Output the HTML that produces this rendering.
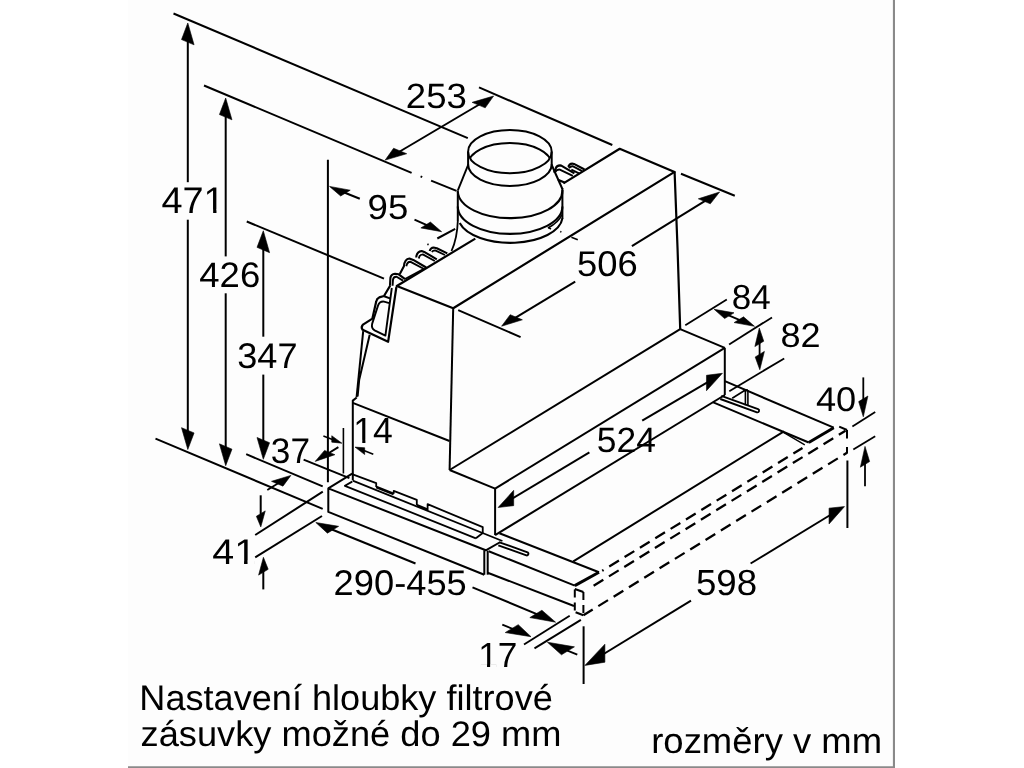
<!DOCTYPE html>
<html><head><meta charset="utf-8"><title>diagram</title>
<style>
html,body{margin:0;padding:0;background:#fff;}
body{width:1024px;height:768px;overflow:hidden;position:relative;}
svg{position:absolute;left:0;top:0;display:block;will-change:transform;}
svg text{font-family:"Liberation Sans",sans-serif;fill:#000;stroke:none;text-rendering:geometricPrecision;}
</style></head><body>
<svg width="1024" height="768" viewBox="0 0 1024 768" fill="none" stroke="#000" stroke-linecap="butt" stroke-linejoin="round">
<rect x="128" y="0" width="767" height="768" fill="#fdfdfd" stroke="none"/>
<line x1="893.95" y1="0" x2="893.95" y2="768" stroke="#8a8a8a" stroke-width="2.1"/>
<line x1="128" y1="767.15" x2="895" y2="767.15" stroke="#8a8a8a" stroke-width="1.7"/>
<line x1="173.50" y1="13.50" x2="467.80" y2="138.20" stroke-width="2.0" />
<line x1="204.00" y1="85.50" x2="411.60" y2="172.80" stroke-width="2.0" />
<line x1="420.60" y1="176.40" x2="422.20" y2="177.10" stroke-width="2.0" />
<line x1="431.10" y1="180.60" x2="456.50" y2="190.90" stroke-width="2.0" />
<line x1="246.75" y1="221.50" x2="384.00" y2="278.60" stroke-width="2.0" />
<line x1="479.00" y1="87.40" x2="612.30" y2="145.00" stroke-width="2.0" />
<line x1="681.00" y1="173.80" x2="734.80" y2="195.70" stroke-width="2.0" />
<line x1="458.20" y1="310.20" x2="520.60" y2="337.10" stroke-width="2.0" />
<line x1="187.80" y1="40.00" x2="187.80" y2="182.20" stroke-width="2.0" />
<line x1="187.80" y1="219.70" x2="187.80" y2="432.00" stroke-width="2.0" />
<polygon points="187.80,23.00 194.07,44.83 181.53,39.57" fill="#000" stroke="#000" stroke-width="0.6" stroke-linejoin="miter"/>
<polygon points="187.80,449.50 194.07,432.93 181.53,427.67" fill="#000" stroke="#000" stroke-width="0.6" stroke-linejoin="miter"/>
<line x1="225.70" y1="115.00" x2="225.70" y2="256.40" stroke-width="2.0" />
<line x1="225.70" y1="293.30" x2="225.70" y2="448.00" stroke-width="2.0" />
<polygon points="225.70,98.00 231.97,119.83 219.43,114.57" fill="#000" stroke="#000" stroke-width="0.6" stroke-linejoin="miter"/>
<polygon points="225.70,465.70 231.97,449.13 219.43,443.87" fill="#000" stroke="#000" stroke-width="0.6" stroke-linejoin="miter"/>
<line x1="263.30" y1="248.00" x2="263.30" y2="336.70" stroke-width="2.0" />
<line x1="263.30" y1="374.60" x2="263.30" y2="441.00" stroke-width="2.0" />
<polygon points="263.30,230.80 269.57,252.63 257.03,247.37" fill="#000" stroke="#000" stroke-width="0.6" stroke-linejoin="miter"/>
<polygon points="263.30,459.30 269.57,442.73 257.03,437.47" fill="#000" stroke="#000" stroke-width="0.6" stroke-linejoin="miter"/>
<line x1="327.90" y1="159.70" x2="327.90" y2="482.20" stroke-width="2.0" />
<line x1="343.40" y1="428.00" x2="343.40" y2="473.50" stroke-width="1.6" />
<line x1="155.50" y1="438.70" x2="322.70" y2="508.90" stroke-width="2.0" />
<line x1="246.20" y1="454.20" x2="322.70" y2="486.30" stroke-width="2.0" />
<line x1="303.60" y1="459.60" x2="349.40" y2="478.10" stroke-width="2.0" />
<line x1="255.20" y1="535.00" x2="322.80" y2="491.70" stroke-width="2.0" />
<line x1="255.20" y1="557.30" x2="322.00" y2="516.00" stroke-width="2.0" />
<line x1="260.70" y1="495.30" x2="260.70" y2="514.00" stroke-width="2.0" />
<polygon points="260.80,526.90 265.24,510.89 256.36,516.31" fill="#000" stroke="#000" stroke-width="0.6" stroke-linejoin="miter"/>
<line x1="263.30" y1="571.00" x2="263.30" y2="589.40" stroke-width="2.0" />
<polygon points="263.40,557.30 268.18,569.28 258.62,575.12" fill="#000" stroke="#000" stroke-width="0.6" stroke-linejoin="miter"/>
<line x1="323.40" y1="436.10" x2="335.00" y2="440.60" stroke-width="1.6" />
<polygon points="341.90,443.20 331.76,442.14 331.76,435.74" fill="#000" stroke="#000" stroke-width="0.6" stroke-linejoin="miter"/>
<line x1="338.40" y1="447.10" x2="326.00" y2="454.80" stroke-width="1.9" />
<polygon points="315.20,461.40 334.88,454.71 324.55,450.38" fill="#000" stroke="#000" stroke-width="0.6" stroke-linejoin="miter"/>
<line x1="267.30" y1="490.00" x2="279.00" y2="482.80" stroke-width="1.8" />
<polygon points="290.90,475.40 282.96,486.13 271.52,481.33" fill="#000" stroke="#000" stroke-width="0.6" stroke-linejoin="miter"/>
<line x1="373.30" y1="454.20" x2="362.00" y2="449.80" stroke-width="1.6" />
<polygon points="355.00,447.10 364.68,454.56 364.68,447.76" fill="#000" stroke="#000" stroke-width="0.6" stroke-linejoin="miter"/>
<line x1="393.00" y1="155.50" x2="486.00" y2="100.50" stroke-width="2.0" />
<polygon points="493.60,96.00 485.21,107.86 472.11,102.37" fill="#000" stroke="#000" stroke-width="0.6" stroke-linejoin="miter"/>
<polygon points="385.20,160.10 406.69,153.73 393.59,148.24" fill="#000" stroke="#000" stroke-width="0.6" stroke-linejoin="miter"/>
<line x1="343.00" y1="192.00" x2="359.80" y2="198.75" stroke-width="2.0" />
<polygon points="329.50,186.40 350.23,190.18 340.67,196.01" fill="#000" stroke="#000" stroke-width="0.6" stroke-linejoin="miter"/>
<line x1="414.50" y1="219.60" x2="428.00" y2="225.60" stroke-width="2.0" />
<polygon points="441.60,231.70 430.43,222.09 420.87,227.92" fill="#000" stroke="#000" stroke-width="0.6" stroke-linejoin="miter"/>
<line x1="437.30" y1="238.50" x2="455.20" y2="228.80" stroke-width="2.0" />
<line x1="509.00" y1="321.70" x2="575.20" y2="281.70" stroke-width="2.0" />
<line x1="631.90" y1="246.20" x2="712.00" y2="196.70" stroke-width="2.0" />
<polygon points="501.60,326.20 522.37,319.80 510.20,314.69" fill="#000" stroke="#000" stroke-width="0.6" stroke-linejoin="miter"/>
<polygon points="719.60,192.00 710.31,203.84 698.33,198.81" fill="#000" stroke="#000" stroke-width="0.6" stroke-linejoin="miter"/>
<line x1="571.40" y1="237.30" x2="577.80" y2="239.80" stroke-width="1.6" />
<line x1="560.20" y1="231.40" x2="561.40" y2="231.90" stroke-width="1.6" />
<line x1="548.00" y1="227.40" x2="551.00" y2="229.00" stroke-width="1.6" />
<line x1="685.30" y1="325.20" x2="726.80" y2="299.40" stroke-width="1.8" />
<line x1="729.10" y1="344.40" x2="772.00" y2="317.40" stroke-width="1.8" />
<line x1="727.00" y1="314.70" x2="741.00" y2="320.60" stroke-width="1.8" />
<polygon points="714.10,309.30 734.01,312.82 724.62,318.55" fill="#000" stroke="#000" stroke-width="0.6" stroke-linejoin="miter"/>
<polygon points="754.50,326.30 743.52,316.86 734.13,322.58" fill="#000" stroke="#000" stroke-width="0.6" stroke-linejoin="miter"/>
<line x1="759.60" y1="342.00" x2="759.60" y2="356.00" stroke-width="1.8" />
<polygon points="759.30,328.10 763.74,341.19 754.86,346.61" fill="#000" stroke="#000" stroke-width="0.6" stroke-linejoin="miter"/>
<polygon points="759.80,369.70 764.41,351.39 755.19,357.01" fill="#000" stroke="#000" stroke-width="0.6" stroke-linejoin="miter"/>
<line x1="729.30" y1="391.20" x2="784.20" y2="358.40" stroke-width="1.8" />
<line x1="505.00" y1="502.90" x2="589.40" y2="452.40" stroke-width="2.0" />
<line x1="642.20" y1="420.70" x2="715.00" y2="377.80" stroke-width="2.0" />
<polygon points="498.10,507.50 513.68,505.65 513.68,490.35" fill="#000" stroke="#000" stroke-width="0.6" stroke-linejoin="miter"/>
<polygon points="722.40,373.30 706.48,390.71 706.48,375.31" fill="#000" stroke="#000" stroke-width="0.6" stroke-linejoin="miter"/>
<line x1="863.30" y1="377.40" x2="863.30" y2="400.00" stroke-width="1.8" />
<polygon points="863.30,416.80 867.91,395.99 858.69,401.61" fill="#000" stroke="#000" stroke-width="0.6" stroke-linejoin="miter"/>
<line x1="865.00" y1="463.00" x2="865.00" y2="486.30" stroke-width="1.8" />
<polygon points="865.00,446.40 869.61,461.59 860.39,467.21" fill="#000" stroke="#000" stroke-width="0.6" stroke-linejoin="miter"/>
<line x1="852.40" y1="426.50" x2="875.20" y2="412.10" stroke-width="1.8" />
<line x1="853.30" y1="449.60" x2="875.20" y2="436.30" stroke-width="1.8" />
<line x1="593.00" y1="660.50" x2="691.00" y2="600.60" stroke-width="2.0" />
<line x1="750.60" y1="563.50" x2="836.00" y2="511.50" stroke-width="2.0" />
<polygon points="584.90,665.40 604.88,662.21 604.88,644.21" fill="#000" stroke="#000" stroke-width="0.6" stroke-linejoin="miter"/>
<polygon points="844.50,506.60 829.05,523.93 829.05,508.13" fill="#000" stroke="#000" stroke-width="0.6" stroke-linejoin="miter"/>
<line x1="847.40" y1="460.50" x2="847.40" y2="528.00" stroke-width="2.0" />
<line x1="583.60" y1="626.30" x2="583.60" y2="684.00" stroke-width="2.0" />
<line x1="524.00" y1="644.50" x2="569.70" y2="615.80" stroke-width="1.9" />
<line x1="534.50" y1="648.40" x2="580.90" y2="619.90" stroke-width="1.9" />
<line x1="502.30" y1="624.60" x2="515.00" y2="629.90" stroke-width="1.8" />
<polygon points="531.00,636.70 518.22,624.65 505.24,632.57" fill="#000" stroke="#000" stroke-width="0.6" stroke-linejoin="miter"/>
<line x1="577.30" y1="654.70" x2="565.00" y2="649.60" stroke-width="1.8" />
<polygon points="547.40,642.20 574.45,646.87 561.47,654.79" fill="#000" stroke="#000" stroke-width="0.6" stroke-linejoin="miter"/>
<line x1="324.00" y1="526.20" x2="415.50" y2="563.50" stroke-width="2.0" />
<line x1="472.50" y1="587.30" x2="547.00" y2="618.40" stroke-width="2.0" />
<polygon points="315.80,522.50 338.63,526.33 327.45,533.15" fill="#000" stroke="#000" stroke-width="0.6" stroke-linejoin="miter"/>
<polygon points="555.60,622.20 541.89,610.25 529.85,617.59" fill="#000" stroke="#000" stroke-width="0.6" stroke-linejoin="miter"/>
<g transform="matrix(1.0528 0 0 1.0306 161.44 212.50)"><text font-size="36" x="0" y="0">471</text><rect x="42.152" y="-2.953" width="6.943" height="5.098" fill="#fdfdfd" stroke="none"/><rect x="52.277" y="-2.953" width="6.662" height="5.098" fill="#fdfdfd" stroke="none"/></g>
<g transform="matrix(1.0142 0 0 0.9820 199.27 286.95)"><text font-size="36" x="0" y="0">426</text></g>
<g transform="matrix(1.0042 0 0 0.9898 237.23 368.44)"><text font-size="36" x="0" y="0">347</text></g>
<g transform="matrix(1.0159 0 0 0.9781 405.87 108.15)"><text font-size="36" x="0" y="0">253</text></g>
<g transform="matrix(1.0163 0 0 0.9624 367.55 219.45)"><text font-size="36" x="0" y="0">95</text></g>
<g transform="matrix(1.0112 0 0 0.9937 577.04 276.34)"><text font-size="36" x="0" y="0">506</text></g>
<g transform="matrix(0.9729 0 0 0.9624 731.70 308.85)"><text font-size="36" x="0" y="0">84</text></g>
<g transform="matrix(1.0027 0 0 0.9546 780.46 346.86)"><text font-size="36" x="0" y="0">82</text></g>
<g transform="matrix(0.9826 0 0 0.9742 596.79 452.05)"><text font-size="36" x="0" y="0">524</text></g>
<g transform="matrix(1.0058 0 0 0.9507 815.88 410.96)"><text font-size="36" x="0" y="0">40</text></g>
<g transform="matrix(1.0182 0 0 1.0094 695.93 595.44)"><text font-size="36" x="0" y="0">598</text></g>
<g transform="matrix(0.9794 0 0 0.9662 478.15 667.00)"><text font-size="36" x="0" y="0">17</text><rect x="2.109" y="-2.953" width="6.943" height="5.098" fill="#fdfdfd" stroke="none"/><rect x="12.234" y="-2.953" width="6.662" height="5.098" fill="#fdfdfd" stroke="none"/></g>
<g transform="matrix(1.0079 0 0 0.9898 333.59 595.34)"><text font-size="36" x="0" y="0">290-455</text></g>
<g transform="matrix(1.0952 0 0 0.9863 212.21 563.50)"><text font-size="36" x="0" y="0">41</text><rect x="22.131" y="-2.953" width="6.943" height="5.098" fill="#fdfdfd" stroke="none"/><rect x="32.256" y="-2.953" width="6.662" height="5.098" fill="#fdfdfd" stroke="none"/></g>
<g transform="matrix(0.9790 0 0 0.9879 270.87 463.39)"><text font-size="36" x="0" y="0">37</text></g>
<g transform="matrix(0.9877 0 0 1.0064 353.32 442.80)"><text font-size="36" x="0" y="0">14</text><rect x="2.109" y="-2.953" width="6.943" height="5.098" fill="#fdfdfd" stroke="none"/><rect x="12.234" y="-2.953" width="6.662" height="5.098" fill="#fdfdfd" stroke="none"/></g>
<text transform="matrix(1.0032 0 0 0.9889 139.31 709.90)" font-size="36" x="0" y="0">Nastavení hloubky filtrové</text>
<text transform="matrix(1.0064 0 0 0.9889 140.55 746.30)" font-size="36" x="0" y="0">zásuvky možné do 29 mm</text>
<text transform="matrix(1.0126 0 0 0.9889 651.23 752.70)" font-size="36" x="0" y="0">rozměry v mm</text>
<path d="M563.40 183.40 L619.70 148.75 L674.60 171.90 L453.20 308.20 L396.80 286.00 L475.30 238.60" stroke-width="2.2" />
<line x1="453.20" y1="308.20" x2="449.60" y2="470.00" stroke-width="2.0" />
<path d="M674.60 171.90 L677.60 250.00 L680.20 329.20" stroke-width="2.2" />
<line x1="449.60" y1="470.00" x2="680.20" y2="329.20" stroke-width="2.0" />
<line x1="352.80" y1="402.90" x2="449.50" y2="441.00" stroke-width="2.0" />
<path d="M356.70 397.50 L352.80 400.60 L352.80 480.20" stroke-width="2.0" />
<line x1="449.60" y1="470.00" x2="495.10" y2="488.60" stroke-width="2.0" />
<line x1="680.20" y1="329.20" x2="724.80" y2="347.80" stroke-width="2.0" />
<line x1="495.10" y1="488.60" x2="724.80" y2="347.80" stroke-width="2.0" />
<line x1="495.10" y1="488.60" x2="495.10" y2="535.10" stroke-width="2.0" />
<line x1="724.80" y1="347.80" x2="724.80" y2="395.00" stroke-width="2.0" />
<line x1="495.10" y1="535.10" x2="724.80" y2="395.00" stroke-width="2.0" />
<ellipse cx="509.9" cy="151.7" rx="41.8" ry="21.6" stroke-width="2"/>
<clipPath id="topel"><ellipse cx="509.9" cy="151.7" rx="41.8" ry="21.6"/></clipPath>
<ellipse cx="509.9" cy="164.6" rx="41.8" ry="21.6" stroke-width="2" clip-path="url(#topel)"/>
<path d="M468.10 164.30 A41.8 21.6 0 0 0 551.70 164.30" stroke-width="2.0" />
<line x1="468.10" y1="151.70" x2="468.10" y2="165.00" stroke-width="2.0" />
<line x1="551.70" y1="151.70" x2="551.70" y2="165.00" stroke-width="2.0" />
<line x1="468.10" y1="165.00" x2="457.80" y2="190.50" stroke-width="2.0" />
<line x1="551.70" y1="165.00" x2="562.40" y2="189.00" stroke-width="2.0" />
<path d="M457.8 191.5 A52.3 27.4 0 0 0 562.4 190" stroke-width="2.1" />
<path d="M457.8 206.5 A52.3 27.4 0 0 0 562.4 206.5" stroke-width="2.1" />
<path d="M459.7 223.1 A52.3 26.5 0 0 0 562.4 218.4" stroke-width="2.1" />
<path d="M548 228 A52.3 27.4 0 0 0 562.0 214.5" stroke-width="1.6" />
<line x1="457.80" y1="190.50" x2="457.80" y2="221.00" stroke-width="2.0" />
<line x1="562.40" y1="188.00" x2="562.40" y2="219.00" stroke-width="2.0" />
<path d="M457.8 221 C457.5 230 456.5 240 451.5 251" stroke-width="1.8" />
<line x1="724.90" y1="381.20" x2="833.75" y2="427.70" stroke-width="2.0" />
<line x1="712.70" y1="402.20" x2="808.75" y2="442.50" stroke-width="2.0" />
<line x1="808.75" y1="442.50" x2="833.75" y2="427.70" stroke-width="3" />
<line x1="573.30" y1="561.40" x2="784.00" y2="431.30" stroke-width="2.0" />
<line x1="782.20" y1="431.60" x2="804.80" y2="444.80" stroke-width="1.4" />
<line x1="802.50" y1="448.00" x2="602.20" y2="570.80" stroke-width="2.3" stroke-dasharray="11.4 6.6" stroke-dashoffset="0.7"/>
<line x1="845.50" y1="430.70" x2="592.80" y2="586.30" stroke-width="2.3" stroke-dasharray="11.4 6.6" stroke-dashoffset="3.6"/>
<line x1="847.00" y1="452.70" x2="583.40" y2="615.30" stroke-width="2.3" stroke-dasharray="11.4 6.6" stroke-dashoffset="7.2"/>
<line x1="839.20" y1="426.60" x2="847.00" y2="430.00" stroke-width="2.0" />
<line x1="847.00" y1="430.00" x2="847.00" y2="438.50" stroke-width="2.0" />
<line x1="847.00" y1="447.00" x2="847.00" y2="453.40" stroke-width="2.0" />
<line x1="574.80" y1="589.50" x2="574.80" y2="615.00" stroke-width="2" stroke-dasharray="8 5"/>
<line x1="583.40" y1="592.00" x2="583.40" y2="615.30" stroke-width="2" stroke-dasharray="8 5"/>
<line x1="574.80" y1="589.00" x2="583.40" y2="592.00" stroke-width="2.0" />
<line x1="575.60" y1="612.20" x2="583.40" y2="615.30" stroke-width="2.0" />
<line x1="499.40" y1="533.20" x2="599.00" y2="572.30" stroke-width="2.0" />
<line x1="488.70" y1="551.25" x2="574.80" y2="585.60" stroke-width="2.0" />
<line x1="574.80" y1="585.60" x2="599.00" y2="572.30" stroke-width="3" />
<line x1="487.70" y1="572.70" x2="574.00" y2="606.00" stroke-width="2.0" />
<line x1="484.30" y1="550.30" x2="484.30" y2="574.70" stroke-width="2.0" />
<line x1="487.70" y1="550.60" x2="487.70" y2="574.70" stroke-width="2.0" />
<path d="M484.30 574.70 L328.30 511.90 L328.30 488.40 L485.80 550.30 L500.40 542.00" stroke-width="2.0" />
<line x1="328.30" y1="488.40" x2="352.20" y2="473.60" stroke-width="2.0" />
<path d="M352.70 474.30 L376.20 483.10 L376.20 487.00" stroke-width="1.8" />
<path d="M393.70 493.80 L393.70 490.90 L416.80 499.80 L416.80 505.10" stroke-width="1.8" />
<path d="M427.60 510.50 L427.60 504.20 L482.75 527.10 L482.75 533.00 L475.90 538.30" stroke-width="1.8" />
<line x1="376.20" y1="487.00" x2="393.70" y2="494.00" stroke-width="2.6" />
<line x1="416.80" y1="505.10" x2="427.60" y2="509.60" stroke-width="2.6" />
<line x1="352.70" y1="480.60" x2="502.40" y2="541.00" stroke-width="1.8" />
<path d="M352.20 481.60 L344.90 485.80 L475.90 538.30" stroke-width="1.8" />
<path d="M499.5 542.3 L527.6 552.3 A1.7 1.7 0 0 1 526.4 555.4 L498.3 545.4" stroke-width="1.9" />
<path d="M721.3 395.9 L758.1 409.1 A1.7 1.7 0 0 1 757.0 412.3 L720.3 399.0" stroke-width="1.9" />
<path d="M732.20 398.30 L745.40 390.00 L745.40 405.20" stroke-width="1.6" />
<line x1="747.90" y1="390.00" x2="747.90" y2="405.80" stroke-width="1.6" />
<line x1="743.00" y1="389.60" x2="747.90" y2="390.00" stroke-width="1.6" />
<path d="M554.0 172.7 L555.6 168.8 Q556.6 165.4 560.0 165.4 L561.3 165.6 L574.4 173.4" stroke-width="2.1" />
<path d="M554.8 172.4 Q557 169.3 559.8 169.6 L572.8 175.8" stroke-width="1.9" />
<path d="M558.0 179.7 L565.0 182.8" stroke-width="2.2" />
<path d="M568.1 166.8 L569.6 164.6 Q571.2 163.2 574.0 163.9 L584.5 169.5" stroke-width="2.1" />
<path d="M568.9 168.2 Q570.6 166.0 572.6 166.2 L582.2 171.1" stroke-width="1.9" />
<path d="M571.3 169.6 L579.0 173.4" stroke-width="1.9" />
<path d="M390.0 285.3 L390.4 278.0 Q391.0 274.0 395.0 273.8 L398.7 274.3 L405.1 279.2" stroke-width="2.1" />
<path d="M392.6 285.8 L393.0 279.5 Q393.6 276.6 396.6 276.8 L403.0 280.6" stroke-width="1.9" />
<path d="M399.8 274.0 L403.9 266.3 Q404.6 259.0 409.4 258.5 L413.3 259.9 L426.2 267.5" stroke-width="2.1" />
<path d="M406.3 266.2 Q407.2 261.6 410.6 261.8 L424.0 269.0" stroke-width="1.9" />
<path d="M405.0 279.0 L424.5 268.5" stroke-width="1.9" />
<path d="M416.2 257.5 Q416.8 251.4 421.6 251.1 L425.0 252.3 L436.8 259.3" stroke-width="2.1" />
<path d="M418.8 258.5 Q419.6 254.4 422.8 254.4 L434.8 261.0" stroke-width="1.9" />
<path d="M429.7 251.1 Q430.6 247.6 433.6 247.5 L436.8 248.2 L447.3 253.4" stroke-width="2.1" />
<path d="M432.0 252.2 Q433 250.2 435.2 250.4 L445.0 255.0" stroke-width="1.9" />
<path d="M390.4 285.2 L384.0 296.0 L379.2 297.4 Q376.8 298.4 376.2 301.6 L372.4 318.6 L363.0 324.6 Q360.6 327.2 362.6 329.8 L388.1 341.8 L396.4 287.0" stroke-width="2.2" />
<path d="M390.2 303.4 L384.0 301.6 Q379.4 301.2 378.0 305.6 L372.2 323.6 Q371.0 328.4 374.6 330.4 L385.4 335.6 L391.8 288.0" stroke-width="1.9" />
<path d="M390.6 298.6 L384.2 296.2" stroke-width="2.0" />
<path d="M363.2 331.2 L356.6 397.2" stroke-width="2.0" />
<path d="M369.7 334.8 L359.2 379.7 L357.6 396.5" stroke-width="2.0" />
<line x1="427.40" y1="244.10" x2="428.60" y2="244.70" stroke-width="1.8" />
</svg>
</body></html>
